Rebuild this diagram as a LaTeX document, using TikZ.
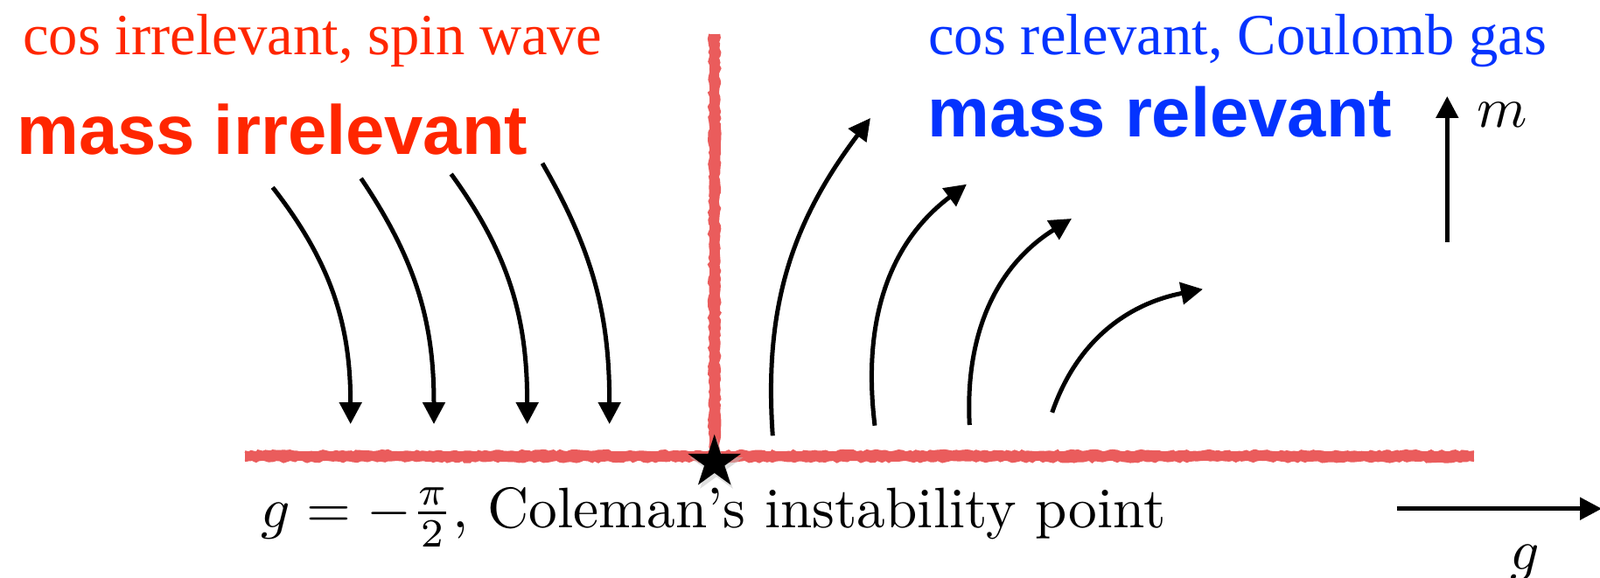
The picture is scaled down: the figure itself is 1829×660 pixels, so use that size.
\documentclass[tikz,border=0pt]{standalone}
\usepackage{fontspec}
\usetikzlibrary{arrows.meta,decorations.pathmorphing}
\newfontfamily\timesfont{Liberation Serif}
\newfontfamily\arialfont{Liberation Sans}
\definecolor{kred}{RGB}{255,38,0}
\definecolor{kblue}{RGB}{4,51,255}
\definecolor{linered}{RGB}{234,92,92}
\tikzset{
  flow/.style={line width=2.5pt, -{Triangle[length=12.5pt,width=12.5pt]}},
  redline/.style={line width=5.5pt, linered},
  rough/.style={line width=1.3pt, linered, decorate,
    decoration={random steps, segment length=2pt, amplitude=0.7pt}},
  captxt/.style={inner sep=0pt, anchor=base west, font=\timesfont\fontsize{33.3pt}{40pt}\selectfont},
  boldtxt/.style={inner sep=0pt, anchor=base west, font=\arialfont\bfseries\fontsize{39.8pt}{48pt}\selectfont},
  mathtxt/.style={inner sep=0pt, anchor=base, scale=3.27},
}
\begin{document}
\begin{tikzpicture}[x=0.5pt,y=0.5pt]
\useasboundingbox (0,0) rectangle (1829,660);

% red phase boundaries (sketch look)
\coordinate (vtop) at (816.7,621);
\coordinate (orig) at (816.7,138.3);
\coordinate (hl) at (280,138.3);
\coordinate (hr) at (1685,138.3);
\draw[redline] (hl) -- (hr);
\draw[rough] ([yshift=2.6pt]hl) -- ([yshift=2.6pt]hr);
\draw[rough] ([yshift=-2.6pt]hl) -- ([yshift=-2.6pt]hr);
\draw[redline] (vtop) -- (orig);
\draw[rough] ([xshift=2.6pt]vtop) -- ([xshift=2.6pt]orig);
\draw[rough] ([xshift=-2.6pt]vtop) -- ([xshift=-2.6pt]orig);

% star with faint shadow
\fill[black!25, opacity=0.5, shift={(819,127)}] (90:32)
  \foreach \k in {1,...,9}{ -- ({90+36*\k}:{ifthenelse(mod(\k,2)==1,12.22,32)}) } -- cycle;
\fill[black, shift={(816.7,131.3)}] (90:32)
  \foreach \k in {1,...,9}{ -- ({90+36*\k}:{ifthenelse(mod(\k,2)==1,12.22,32)}) } -- cycle;

% texts
\node[captxt, text=kred] (cosirr) at (26,597.5) {cos irrelevant, spin wave};
\node[boldtxt, text=kred] (massirr) at (19,483.3) {mass irrelevant};
\node[captxt, text=kblue] (cosrel) at (1061,597.5) {cos relevant, Coulomb gas};
\node[boldtxt, text=kblue] (massrel) at (1060,503) {mass relevant};
\node[mathtxt, anchor=base west] (coleman) at (297,57) {$g=-\frac{\pi}{2}$, Coleman's instability point};
\node[mathtxt] (mlab) at (1716.7,514.3) {$m$};
\node[mathtxt] (glab) at (1743,9) {$g$};

% axis arrows
\coordinate (m0) at (1654.3,383.3);
\coordinate (m1) at (1654.3,550);
\coordinate (g0) at (1596.7,78.3);
\coordinate (g1) at (1831,78.3);
\draw[flow] (m0) -- (m1);
\draw[flow] (g0) -- (g1);

% flows toward the line (left)
\coordinate (a1s) at (311.7,445.7); \coordinate (a1e) at (400.7,175);
\coordinate (a2s) at (412.7,456);   \coordinate (a2e) at (496,175);
\coordinate (a3s) at (515.7,461);   \coordinate (a3e) at (602.7,175);
\coordinate (a4s) at (620,473.3);   \coordinate (a4e) at (696.7,175);
\draw[flow] (a1s) to[out=-52, in=90] (a1e);
\draw[flow] (a2s) to[out=-56, in=90] (a2e);
\draw[flow] (a3s) to[out=-54, in=90] (a3e);
\draw[flow] (a4s) to[out=-60, in=90] (a4e);

% flows away (right)
\coordinate (b1s) at (883.3,161.7); \coordinate (b1e) at (995,525);
\coordinate (b2s) at (1000,173.3);  \coordinate (b2e) at (1105,449.3);
\coordinate (b3s) at (1108.3,174);  \coordinate (b3e) at (1225,410);
\coordinate (b4s) at (1202.7,188.3); \coordinate (b4e) at (1375,329.3);
\draw[flow] (b1s) to[out=94, in=233] (b1e);
\draw[flow] (b2s) to[out=97, in=217] (b2e);
\draw[flow] (b3s) to[out=93, in=212] (b3e);
\draw[flow] (b4s) to[out=71, in=191] (b4e);
\end{tikzpicture}
\end{document}
